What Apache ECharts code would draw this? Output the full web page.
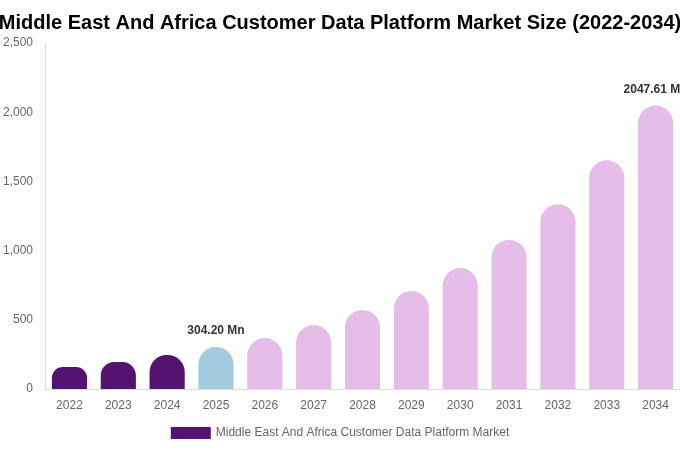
<!DOCTYPE html>
<html>
<head>
<meta charset="utf-8">
<script src="https://cdn.jsdelivr.net/npm/echarts@6/dist/echarts.min.js"></script>
<style>
html, body { margin: 0; padding: 0; background: #fff; }
#chart-panel { width: 680px; height: 450px; }
</style>
</head>
<body>
<div id="chart-panel"></div>
<script>
var years = ['2022', '2023', '2024', '2025', '2026', '2027', '2028', '2029', '2030', '2031', '2032', '2033', '2034'];
var marketValues = [159, 195, 246, 304.20, 368, 462, 571, 708, 874, 1077, 1334, 1652, 2047.61];
var yTicks = [0, 500, 1000, 1500, 2000, 2500];
var labelledYears = { '2025': '304.20 Mn', '2034': '2047.61 Mn' };

var seriesName = 'Middle East And Africa Customer Data Platform Market';
var pastColor = '#541370';
var baseColor = '#a4cbdf';
var forecastColor = '#e6bce8';

var gridTop = 43, gridBottom = 61, chartHeight = 450;
var pxPerUnit = (chartHeight - gridTop - gridBottom) / yTicks[yTicks.length - 1];

var myChart = echarts.init(document.getElementById('chart-panel'));

var barData = marketValues.map(function (v, i) {
    var y = +years[i];
    var color = y < 2025 ? pastColor : (y === 2025 ? baseColor : forecastColor);
    // corners never bigger than half the bar's height
    var r = Math.min(18, v * pxPerUnit / 2);
    var item = { value: v, itemStyle: { color: color, borderRadius: [r, r, 0, 0] } };
    if (labelledYears[years[i]]) {
        item.label = {
            show: true,
            position: 'top',
            distance: 10,
            formatter: labelledYears[years[i]],
            fontWeight: 'bold',
            fontSize: 12,
            color: '#333'
        };
    }
    return item;
});

myChart.setOption({
    backgroundColor: '#fff',
    animation: false,
    title: {
        text: 'Middle East And Africa Customer Data Platform Market Size (2022-2034)',
        left: 'center',
        top: 8,
        textStyle: {
            fontFamily: 'Liberation Sans, Arial, sans-serif',
            fontSize: 20,
            fontWeight: 'bold',
            color: '#000'
        }
    },
    legend: {
        bottom: 6,
        left: 'center',
        itemWidth: 40,
        itemHeight: 12,
        data: [{ name: seriesName, icon: 'rect' }],
        textStyle: { color: '#666', fontSize: 12, fontFamily: 'Liberation Sans, Arial, sans-serif' }
    },
    grid: {
        left: 44,
        right: 0,
        top: gridTop,
        bottom: gridBottom
    },
    xAxis: {
        type: 'category',
        data: years,
        axisLine: { lineStyle: { color: '#ddd' } },
        axisTick: { show: false },
        axisLabel: { color: '#666', fontSize: 12, margin: 11, fontFamily: 'Liberation Sans, Arial, sans-serif' }
    },
    yAxis: {
        type: 'value',
        min: yTicks[0],
        max: yTicks[yTicks.length - 1],
        interval: 500,
        axisLine: { show: true, lineStyle: { color: '#ddd' } },
        axisTick: { show: false },
        splitLine: { show: false },
        axisLabel: {
            color: '#666',
            fontSize: 12,
            margin: 12,
            fontFamily: 'Liberation Sans, Arial, sans-serif',
            formatter: function (v) { return v.toLocaleString('en-US'); }
        }
    },
    series: [{
        name: seriesName,
        type: 'bar',
        barWidth: '72%',
        itemStyle: { color: pastColor, borderRadius: [18, 18, 0, 0] },
        data: barData
    }]
});
</script>
</body>
</html>
